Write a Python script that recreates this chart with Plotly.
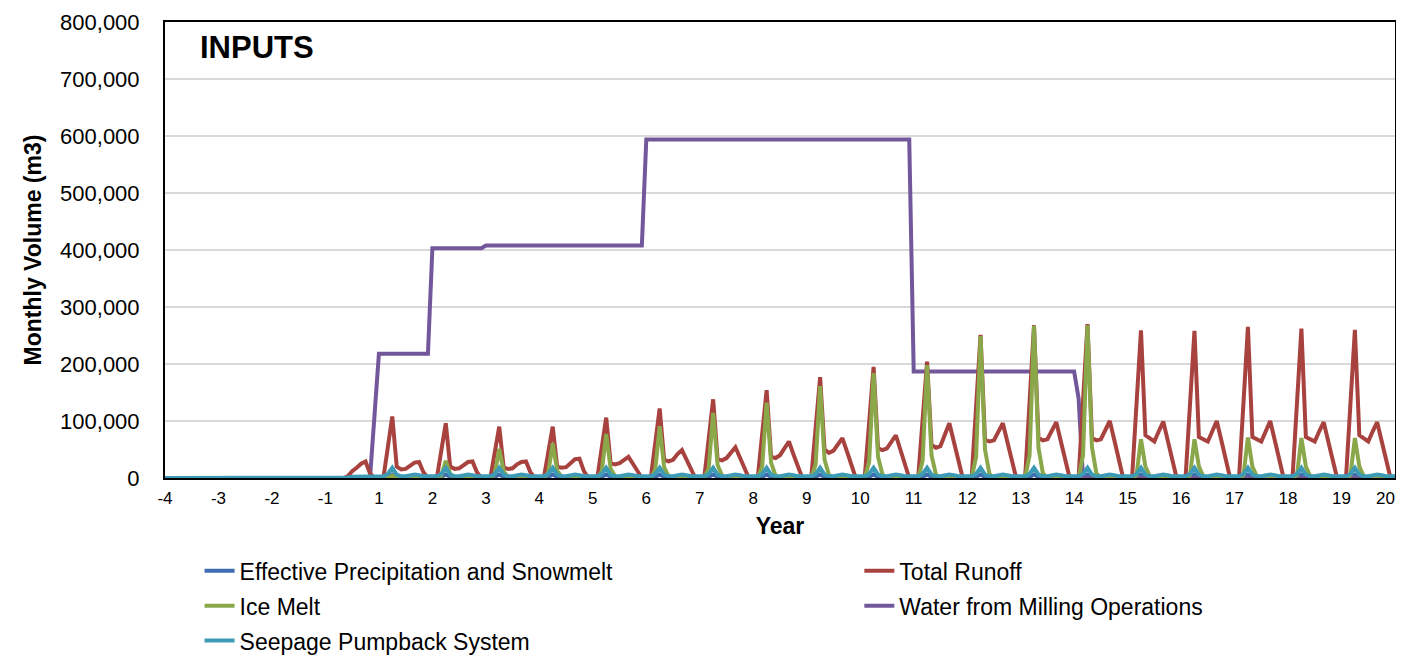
import plotly.graph_objects as go

# Tick labels (project years, no year 0); the last one is padded so it stays inside the window
year_labels = ["-4", "-3", "-2", "-1", "1", "2", "3", "4", "5", "6", "7", "8", "9",
               "10", "11", "12", "13", "14", "15", "16", "17", "18", "19",
               "20\u00a0\u00a0\u00a0\u00a0"]
months_per_year = 12

# Monthly volumes (m3), one row per year (12 months), final point = start of year 20
effective_precip = [
    0, 0, 0, 0, 0, 0, 0, 0, 0, 0, 0, 0,                     # -4
    0, 0, 0, 0, 0, 0, 0, 0, 0, 0, 0, 0,                     # -3
    0, 0, 0, 0, 0, 0, 0, 0, 0, 0, 0, 0,                     # -2
    0, 0, 0, 0, 0, 500, 1000, 1000, 1500, 1500, 800, 0,     # -1
    0, 0, 2000, 6000, 2000, 1000, 1000, 1000, 2000, 1000, 800, 0,   # 1
    0, 0, 2000, 6000, 2000, 1000, 1000, 1000, 2000, 1000, 800, 0,   # 2
    0, 0, 2000, 6000, 2000, 1000, 1000, 1000, 2000, 1000, 800, 0,   # 3
    0, 0, 2000, 6000, 2000, 1000, 1000, 1000, 2000, 1000, 800, 0,   # 4
    0, 0, 2000, 6000, 2000, 1000, 1000, 1000, 2000, 1000, 800, 0,   # 5
    0, 0, 2000, 6000, 2000, 1000, 1000, 1000, 2000, 1000, 800, 0,   # 6
    0, 0, 2000, 6000, 2000, 1000, 1000, 1000, 2000, 1000, 800, 0,   # 7
    0, 0, 2000, 6000, 2000, 1000, 1000, 1000, 2000, 1000, 800, 0,   # 8
    0, 0, 2000, 6000, 2000, 1000, 1000, 1000, 2000, 1000, 800, 0,   # 9
    0, 0, 2000, 6000, 2000, 1000, 1000, 1000, 2000, 1000, 800, 0,   # 10
    0, 0, 2000, 6000, 2000, 1000, 1000, 1000, 2000, 1000, 800, 0,   # 11
    0, 0, 2000, 6000, 2000, 1000, 1000, 1000, 2000, 1000, 800, 0,   # 12
    0, 0, 2000, 6000, 2000, 1000, 1000, 1000, 2000, 1000, 800, 0,   # 13
    0, 0, 2000, 6000, 2000, 1000, 1000, 1000, 2000, 1000, 800, 0,   # 14
    0, 0, 2000, 6000, 2000, 1000, 1000, 1000, 2000, 1000, 800, 0,   # 15
    0, 0, 2000, 6000, 2000, 1000, 1000, 1000, 2000, 1000, 800, 0,   # 16
    0, 0, 2000, 6000, 2000, 1000, 1000, 1000, 2000, 1000, 800, 0,   # 17
    0, 0, 2000, 6000, 2000, 1000, 1000, 1000, 2000, 1000, 800, 0,   # 18
    0, 0, 2000, 6000, 2000, 1000, 1000, 1000, 2000, 1000, 800, 0,   # 19
    0,                                                       # 20
]

total_runoff = [
    0, 0, 0, 0, 0, 0, 0, 0, 0, 0, 0, 0,                                          # -4
    0, 0, 0, 0, 0, 0, 0, 0, 0, 0, 0, 0,                                          # -3
    0, 0, 0, 0, 0, 0, 0, 0, 0, 0, 0, 0,                                          # -2
    0, 0, 0, 0, 0, 3000, 12000, 18000, 25000, 29000, 8000, 0,                    # -1
    0, 0, 54000, 108000, 20000, 15000, 16000, 22000, 27000, 28000, 10000, 0,     # 1
    0, 0, 48000, 96000, 20000, 16000, 17000, 23000, 28000, 29000, 10000, 0,      # 2
    0, 0, 45000, 90000, 18000, 16000, 17000, 24000, 28000, 29000, 10000, 0,      # 3
    0, 0, 45000, 90000, 20000, 18000, 19000, 27000, 33000, 34000, 12000, 0,      # 4
    0, 0, 53000, 106000, 26000, 24000, 26000, 32000, 37000, 25000, 12000, 0,     # 5
    0, 0, 61000, 122000, 32000, 29000, 32000, 42000, 49000, 33000, 16000, 0,     # 6
    0, 0, 69000, 138000, 33000, 31000, 35000, 46000, 54000, 36000, 18000, 0,     # 7
    0, 0, 77000, 154000, 37000, 35000, 40000, 53000, 64000, 42000, 21000, 0,     # 8
    0, 0, 88000, 177000, 50000, 44000, 48000, 58000, 70000, 47000, 23000, 0,     # 9
    0, 0, 97000, 195000, 52000, 49000, 52000, 63000, 75000, 50000, 25000, 0,     # 10
    0, 0, 102000, 204000, 58000, 53000, 56000, 76000, 96000, 64000, 32000, 0,    # 11
    0, 0, 125000, 251000, 67000, 64000, 66000, 82000, 96000, 64000, 32000, 0,    # 12
    0, 0, 134000, 268000, 70000, 66000, 68000, 84000, 98000, 65000, 33000, 0,    # 13
    0, 0, 135000, 270000, 70000, 66000, 68000, 85000, 100000, 67000, 33000, 0,   # 14
    0, 0, 130000, 259000, 75000, 70000, 64000, 82000, 99000, 66000, 33000, 0,    # 15
    0, 0, 129000, 258000, 72000, 68000, 64000, 82000, 100000, 67000, 33000, 0,   # 16
    0, 0, 132000, 265000, 72000, 68000, 64000, 82000, 100000, 67000, 33000, 0,   # 17
    0, 0, 131000, 262000, 72000, 68000, 64000, 82000, 98000, 65000, 33000, 0,    # 18
    0, 0, 130000, 260000, 75000, 70000, 64000, 82000, 98000, 65000, 33000, 0,    # 19
    0,                                                                           # 20
]

ice_melt = [
    0, 0, 0, 0, 0, 0, 0, 0, 0, 0, 0, 0,                      # -4
    0, 0, 0, 0, 0, 0, 0, 0, 0, 0, 0, 0,                      # -3
    0, 0, 0, 0, 0, 0, 0, 0, 0, 0, 0, 0,                      # -2
    0, 0, 0, 0, 0, 0, 0, 0, 0, 0, 0, 0,                      # -1
    0, 0, 0, 4000, 1000, 0, 0, 0, 0, 0, 0, 0,                # 1
    0, 0, 4000, 30000, 7000, 1000, 0, 0, 0, 0, 0, 0,         # 2
    0, 0, 7000, 51000, 11000, 2000, 0, 0, 0, 0, 0, 0,        # 3
    0, 0, 9000, 61000, 13000, 2000, 0, 0, 0, 0, 0, 0,        # 4
    0, 0, 11000, 77000, 16000, 3000, 0, 0, 0, 0, 0, 0,       # 5
    0, 0, 14000, 91000, 19000, 3000, 0, 0, 0, 0, 0, 0,       # 6
    0, 0, 17000, 114000, 23000, 4000, 0, 0, 0, 0, 0, 0,      # 7
    0, 0, 20000, 132000, 27000, 4000, 0, 0, 0, 0, 0, 0,      # 8
    0, 0, 24000, 161000, 32000, 5000, 0, 0, 0, 0, 0, 0,      # 9
    0, 0, 28000, 184000, 37000, 6000, 0, 0, 0, 0, 0, 0,      # 10
    0, 0, 30000, 198000, 40000, 6000, 0, 0, 0, 0, 0, 0,      # 11
    0, 0, 37000, 249000, 50000, 7000, 0, 0, 0, 0, 0, 0,      # 12
    0, 0, 40000, 267000, 53000, 8000, 0, 0, 0, 0, 0, 0,      # 13
    0, 0, 40000, 268000, 54000, 8000, 0, 0, 0, 0, 0, 0,      # 14
    0, 0, 5000, 68000, 20000, 3000, 0, 0, 0, 0, 0, 0,        # 15
    0, 0, 5000, 68000, 20000, 3000, 0, 0, 0, 0, 0, 0,        # 16
    0, 0, 5000, 71000, 20000, 3000, 0, 0, 0, 0, 0, 0,        # 17
    0, 0, 5000, 70000, 20000, 3000, 0, 0, 0, 0, 0, 0,        # 18
    0, 0, 5000, 70000, 20000, 3000, 0, 0, 0, 0, 0, 0,        # 19
    0,                                                        # 20
]

milling_water = (
    [0] * 47 +                # -4 .. -1 (to month 46)
    [109000] +                # ramp month
    [218000] * 12 +           # year 1
    [403000] * 12 +           # year 2
    [408000] * 36 +           # years 3-5
    [594000] * 60 +           # years 6-10
    [187000] * 37 +           # years 11-13 + first month 14
    [140000] +
    [0] * 71                  # to year 20
)

seepage_pumpback = [
    0, 0, 0, 0, 0, 0, 0, 0, 0, 0, 0, 0,                                     # -4
    0, 0, 0, 0, 0, 0, 0, 0, 0, 0, 0, 0,                                     # -3
    0, 0, 0, 0, 0, 0, 0, 0, 0, 0, 0, 0,                                     # -2
    0, 0, 0, 0, 0, 1000, 2000, 2000, 3000, 3000, 3000, 3000,                # -1
    3000, 3000, 7000, 18000, 6000, 3000, 3000, 4000, 6000, 5000, 3000, 3000,  # 1
    3000, 3000, 7000, 18000, 6000, 3000, 3000, 4000, 6000, 5000, 3000, 3000,  # 2
    3000, 3000, 7000, 18000, 6000, 3000, 3000, 4000, 6000, 5000, 3000, 3000,  # 3
    3000, 3000, 7000, 18000, 6000, 3000, 3000, 4000, 6000, 5000, 3000, 3000,  # 4
    3000, 3000, 7000, 18000, 6000, 3000, 3000, 4000, 6000, 5000, 3000, 3000,  # 5
    3000, 3000, 7000, 18000, 6000, 3000, 3000, 4000, 6000, 5000, 3000, 3000,  # 6
    3000, 3000, 7000, 18000, 6000, 3000, 3000, 4000, 6000, 5000, 3000, 3000,  # 7
    3000, 3000, 7000, 18000, 6000, 3000, 3000, 4000, 6000, 5000, 3000, 3000,  # 8
    3000, 3000, 7000, 18000, 6000, 3000, 3000, 4000, 6000, 5000, 3000, 3000,  # 9
    3000, 3000, 7000, 18000, 6000, 3000, 3000, 4000, 6000, 5000, 3000, 3000,  # 10
    3000, 3000, 7000, 18000, 6000, 3000, 3000, 4000, 6000, 5000, 3000, 3000,  # 11
    3000, 3000, 7000, 18000, 6000, 3000, 3000, 4000, 6000, 5000, 3000, 3000,  # 12
    3000, 3000, 7000, 18000, 6000, 3000, 3000, 4000, 6000, 5000, 3000, 3000,  # 13
    3000, 3000, 7000, 18000, 6000, 3000, 3000, 4000, 6000, 5000, 3000, 3000,  # 14
    3000, 3000, 7000, 18000, 6000, 3000, 3000, 4000, 6000, 5000, 3000, 3000,  # 15
    3000, 3000, 7000, 18000, 6000, 3000, 3000, 4000, 6000, 5000, 3000, 3000,  # 16
    3000, 3000, 7000, 18000, 6000, 3000, 3000, 4000, 6000, 5000, 3000, 3000,  # 17
    3000, 3000, 7000, 18000, 6000, 3000, 3000, 4000, 6000, 5000, 3000, 3000,  # 18
    3000, 3000, 7000, 18000, 6000, 3000, 3000, 4000, 6000, 5000, 3000, 3000,  # 19
    3000,                                                                    # 20
]

month_index = list(range(len(total_runoff)))
tick_positions = [i * months_per_year for i in range(len(year_labels))]

FONT = "Liberation Sans, Arial, sans-serif"

series = [
    # (name, values, color, legend, legend rank) in drawing order
    ("Effective Precipitation and Snowmelt", effective_precip, "#3F6EB0", "legend", 1),
    ("Water from Milling Operations", milling_water, "#72589B", "legend2", 2),
    ("Total Runoff", total_runoff, "#A8423F", "legend2", 1),
    ("Ice Melt", ice_melt, "#8AA84A", "legend", 2),
    ("Seepage Pumpback System", seepage_pumpback, "#3D9BB5", "legend", 3),
]

fig = go.Figure()
for name, vals, color, leg, rank in series:
    fig.add_trace(go.Scatter(
        x=month_index, y=vals, name=name, mode="lines",
        line=dict(color=color, width=4),
        legend=leg, legendrank=rank, legendgroup=name,
    ))

legend_common = dict(
    orientation="v", xanchor="left", yanchor="top", y=-0.1564,
    font=dict(size=23, family=FONT, color="black"),
    traceorder="grouped", tracegroupgap=2,
    bgcolor="rgba(0,0,0,0)", borderwidth=0,
)

# page body adds an 8px offset, so the figure is sized 1396x652
fig.update_layout(
    width=1396, height=652,
    margin=dict(l=157, r=9, t=14, b=182, autoexpand=False),
    paper_bgcolor="white", plot_bgcolor="white",
    font=dict(family=FONT, color="black"),
    showlegend=True,
    legend=dict(x=0.0281, **legend_common),
    legend2=dict(x=0.5645, **legend_common),
    annotations=[dict(
        text="<b>INPUTS</b>", xref="paper", yref="paper",
        x=0.027, y=0.945, xanchor="left", yanchor="middle",
        showarrow=False, font=dict(size=31, family=FONT, color="black"),
    )],
)

fig.update_xaxes(
    range=[0, tick_positions[-1]],
    tickmode="array", tickvals=tick_positions, ticktext=year_labels,
    tickfont=dict(size=17, family=FONT, color="black"),
    showgrid=False, zeroline=False, automargin=False,
    showline=True, linecolor="black", linewidth=2, mirror=True,
    ticks="", ticklabelstandoff=4, ticklabeloverflow="allow",
    title=dict(text="<b>Year</b>", font=dict(size=23, family=FONT, color="black"), standoff=10),
)
fig.update_yaxes(
    range=[0, 800000], dtick=100000, tickformat=",.0f",
    tickfont=dict(size=22, family=FONT, color="black"),
    showgrid=True, gridcolor="#D9D9D9", gridwidth=1.5, zeroline=False, automargin=False,
    showline=True, linecolor="black", linewidth=2, mirror=True,
    ticks="", ticklabelstandoff=19,
    title=dict(text="<b>Monthly Volume (m3)</b>", font=dict(size=23, family=FONT, color="black"), standoff=12),
)

# hide page scrollbars so the full window area is used
fig.write_html(
    "out.html",
    post_script="document.documentElement.style.overflow='hidden';document.body.style.overflow='hidden';",
)
